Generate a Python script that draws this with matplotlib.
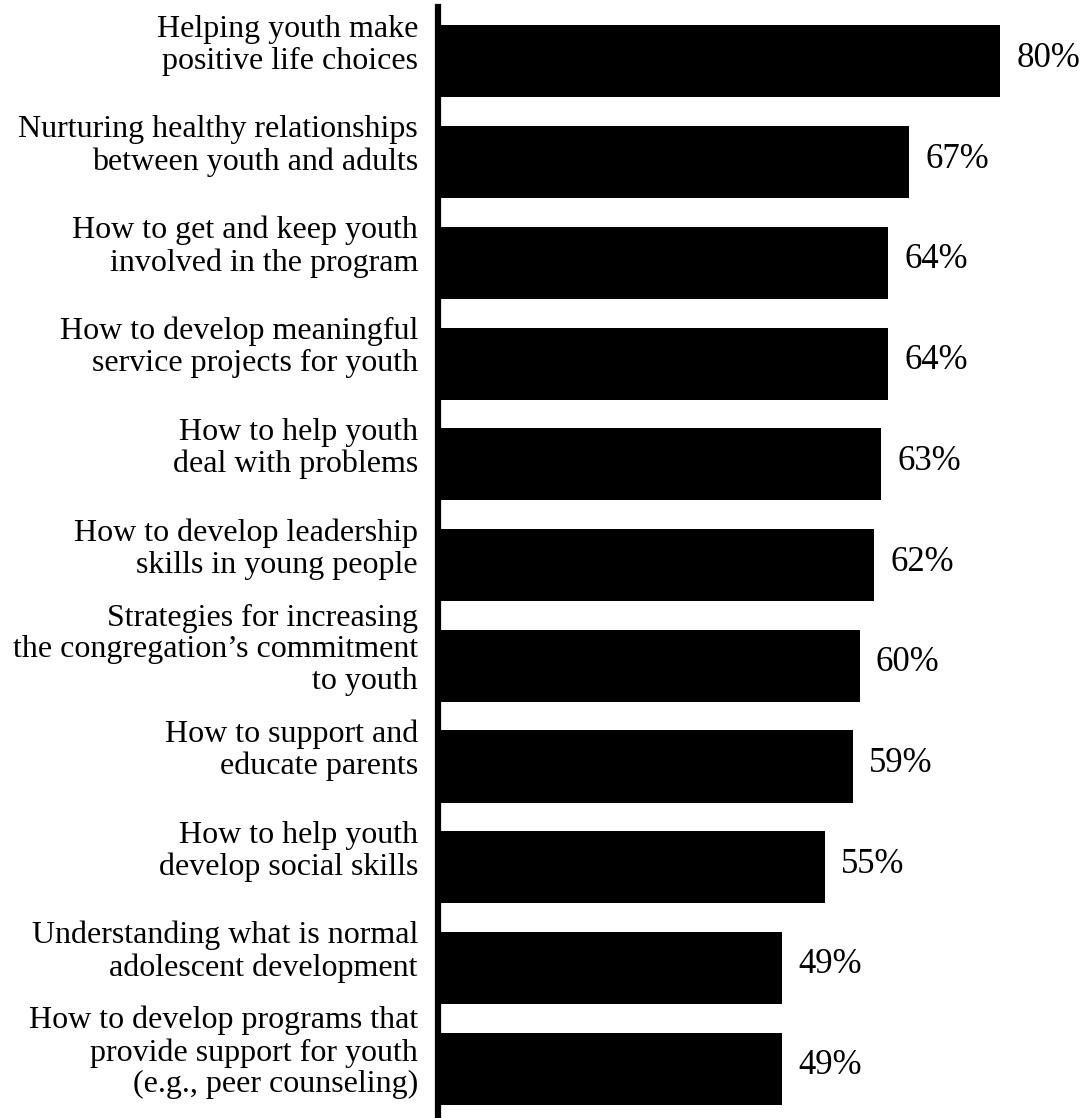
import matplotlib
matplotlib.use("Agg")
import matplotlib.pyplot as plt

plt.rcParams['font.family'] = ['Liberation Serif', 'DejaVu Serif']

# training topics and share of respondents wanting help with each
topics = [
    "Helping youth make\npositive life choices",
    "Nurturing healthy relationships\nbetween youth and adults",
    "How to get and keep youth\ninvolved in the program",
    "How to develop meaningful\nservice projects for youth",
    "How to help youth\ndeal with problems",
    "How to develop leadership\nskills in young people",
    "Strategies for increasing\nthe congregation\u2019s commitment\nto youth",
    "How to support and\neducate parents",
    "How to help youth\ndevelop social skills",
    "Understanding what is normal\nadolescent development",
    "How to develop programs that\nprovide support for youth\n(e.g., peer counseling)",
]
percent = [80, 67, 64, 64, 63, 62, 60, 59, 55, 49, 49]

fig = plt.figure(figsize=(10.89, 11.18), dpi=100)
ax = fig.add_axes([438 / 1089, 0, 1 - 438 / 1089, 1 - 7 / 1118])

pos = list(range(len(topics)))
ax.barh(pos, percent, height=0.715, color='black', left=0)

for i, (t, v) in enumerate(zip(topics, percent)):
    ax.text(-2.85, i - 0.16, t, ha='right', va='center', fontsize=23,
            linespacing=1.12)
    ax.text(v + 2.3, i - 0.03, f"{v}%", ha='left', va='center', fontsize=25)

ax.set_xlim(0, 92.6)
ax.set_ylim(10.49, -0.541)
for s in ['top', 'right', 'bottom']:
    ax.spines[s].set_visible(False)
ax.spines['left'].set_linewidth(4.5)
ax.spines['left'].set_color('black')
ax.set_xticks([])
ax.set_yticks([])

fig.savefig("out.png", dpi=100, facecolor='white')
